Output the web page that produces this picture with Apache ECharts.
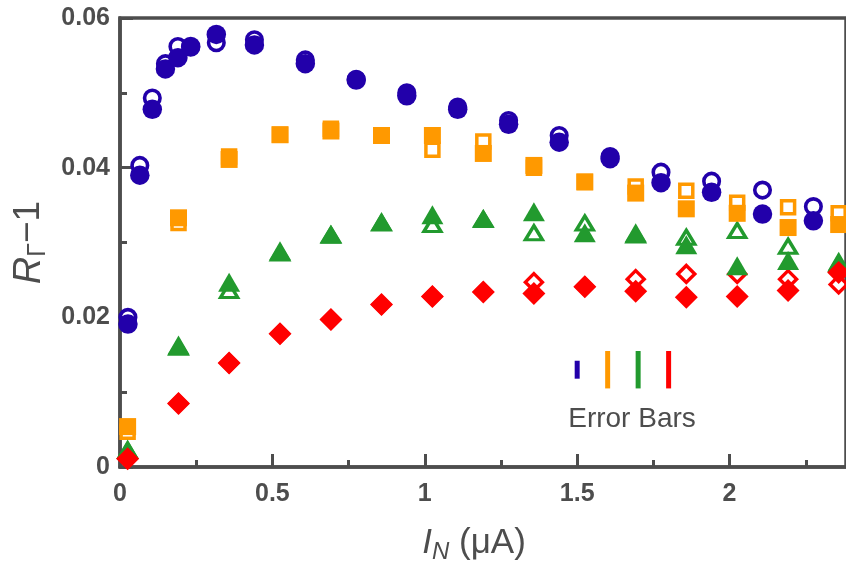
<!DOCTYPE html>
<html>
<head>
<meta charset="utf-8">
<script src="https://cdn.jsdelivr.net/npm/echarts@6/dist/echarts.min.js"></script>
<style>html,body{margin:0;padding:0;background:#fff;}#c{width:846px;height:569px;}</style>
</head>
<body>
<div id="c"></div>
<script>
// x positions (µA)
var xBlue = [0.026,0.065,0.106,0.149,0.19,0.232,0.316,0.441,0.608,0.775,0.941,1.108,1.275,1.441,1.608,1.775,1.941,2.108,2.275];
var xOther = [0.025,0.192,0.358,0.525,0.692,0.858,1.025,1.192,1.358,1.525,1.692,1.858,2.025,2.192,2.358];

var blueFilled = [0.0191,0.0390,0.0478,0.0532,0.0547,0.0562,0.0578,0.0564,0.0539,0.0517,0.0496,0.0478,0.0458,0.0434,0.0412,0.0380,0.0367,0.0338,0.0329];
var blueOpen   = [0.0200,0.0403,0.0493,0.0539,0.0562,0.0561,0.0567,0.0571,0.0544,0.0518,0.0500,0.0481,0.0463,0.0443,0.0415,0.0394,0.0382,0.0370,0.0348];

var orangeFilled = [0.0054,0.0333,0.0411,0.0444,0.0449,0.0443,0.0443,0.0419,0.0403,0.0381,0.0366,0.0345,0.0339,0.0320,0.0324];
var orangeOpen   = [0.0047,0.0326,0.0415,0.0444,0.0452,0.0443,0.0424,0.0435,0.0400,0.0381,0.0375,0.0369,0.0353,0.0347,0.0339];

var greenFilled = [0.0024,0.0163,0.0247,0.0289,0.0311,0.0328,0.0337,0.0332,0.0341,0.0313,0.0313,0.0297,0.0269,0.0276,0.0275];
var greenOpen   = [0.0022,0.0160,0.0236,0.0286,0.0310,0.0326,0.0324,0.0331,0.0313,0.0326,0.0310,0.0307,0.0316,0.0295,0.0272];

var redFilled = [0.0011,0.0085,0.0139,0.0178,0.0197,0.0217,0.0228,0.0234,0.0232,0.0241,0.0235,0.0227,0.0228,0.0236,0.0260];
var redOpen   = [0.0011,0.0085,0.0139,0.0178,0.0197,0.0217,0.0228,0.0234,0.0247,0.0241,0.0251,0.0258,0.0258,0.0251,0.0244];

// error bar legend: [x, centre y, half length]
var errorBars = [[1.5,0.0130,0.0012],[1.6,0.0130,0.0025],[1.7,0.0130,0.0025],[1.8,0.0130,0.0025]];

var xTicks = [0,0.5,1,1.5,2];
var yTicks = [0,0.02,0.04,0.06];

var BLUE='#2200aa', ORANGE='#ff9900', GREEN='#229a2e', RED='#ff0000';
var AX='#4d4d4d';
var TICKFONT="'Liberation Sans'";

function pairs(xs, ys){ return ys.map(function(v,i){return [xs[i], v];}); }

function openSeries(xs, ys, color, symbol, size, bw){
  return {type:'scatter', data:pairs(xs,ys), symbol:symbol, symbolSize:size, z:2,
    itemStyle:{color:'rgba(0,0,0,0)', borderColor:color, borderWidth:bw, opacity:1}, silent:true};
}
function fillSeries(xs, ys, color, symbol, size){
  return {type:'scatter', data:pairs(xs,ys), symbol:symbol, symbolSize:size, z:3,
    itemStyle:{color:color, opacity:1}, silent:true};
}

var chart = echarts.init(document.getElementById('c'), null, {renderer:'canvas'});
var option = {
  animation:false,
  backgroundColor:'#fff',
  grid:{left:120, top:18, right:-3, bottom:98, show:true, borderColor:AX, borderWidth:3.5, backgroundColor:'rgba(0,0,0,0)'},
  xAxis:{type:'value', min:0, max:2.382, interval:0.5,
    axisLine:{lineStyle:{color:AX, width:3.5}},
    axisTick:{inside:true, length:13, lineStyle:{color:AX, width:3}},
    minorTick:{show:true, splitNumber:2, length:7, lineStyle:{color:AX, width:3}},
    splitLine:{show:false},
    axisLabel:{color:AX, fontSize:25, fontWeight:'bold', fontFamily:TICKFONT, margin:15, showMaxLabel:false,
      formatter:function(v){ return xTicks.indexOf(v)>=0 ? String(v) : ''; }},
    name:'{i|I}{s|N} (μA)', nameLocation:'middle', nameGap:55,
    nameTextStyle:{color:AX, fontSize:35, fontFamily:'Liberation Sans', padding:[0,18,0,0],
      rich:{i:{fontStyle:'italic', fontSize:35, color:AX, fontFamily:'Liberation Sans'}, s:{fontStyle:'italic', fontSize:24, color:AX, verticalAlign:'bottom', padding:[18,0,0,0], fontFamily:'Liberation Sans'}}}
  },
  yAxis:{type:'value', min:0, max:0.06, interval:0.02,
    axisLine:{lineStyle:{color:AX, width:3.5}},
    axisTick:{inside:true, length:13, lineStyle:{color:AX, width:3}},
    minorTick:{show:true, splitNumber:2, length:7, lineStyle:{color:AX, width:3}},
    splitLine:{show:false},
    axisLabel:{color:AX, fontSize:25, fontWeight:'bold', fontFamily:TICKFONT, margin:10,
      formatter:function(v){ return yTicks.indexOf(v)>=0 ? String(v) : ''; }},
    name:'{r|R}{s|Γ}{n|−1}', nameLocation:'middle', nameGap:67, nameRotate:90,
    nameTextStyle:{color:AX, fontSize:37, fontFamily:'Liberation Sans',
      rich:{r:{fontStyle:'italic', fontSize:38, color:AX, fontFamily:'Liberation Sans'}, s:{fontSize:25, color:AX, verticalAlign:'bottom', padding:[18,0,0,0], fontFamily:'Liberation Sans'}, n:{fontSize:37, color:AX, fontFamily:'Liberation Sans'}}}
  },
  graphic:[
    {type:'text', x:632, y:419, style:{text:'Error Bars', fill:AX, font:'28px "Liberation Sans"', textAlign:'center', textVerticalAlign:'middle'}, z:10}],
  series:[
    openSeries(xBlue, blueOpen, BLUE, 'circle', 15.5, 3.6),
    openSeries(xOther, orangeOpen, ORANGE, 'rect', 13, 3.5),
    openSeries(xOther, greenOpen, GREEN, 'triangle', [17,14], 3.3),
    openSeries(xOther, redOpen, RED, 'diamond', 17, 3.4),
    fillSeries(xBlue, blueFilled, BLUE, 'circle', 19.5),
    fillSeries(xOther, orangeFilled, ORANGE, 'rect', 17),
    fillSeries(xOther, greenFilled, GREEN, 'triangle', [22,19]),
    fillSeries(xOther, redFilled, RED, 'diamond', 23),
    {type:'custom', data:errorBars, z:4, silent:true,
      renderItem:function(params, api){
        var cols=[BLUE,ORANGE,GREEN,RED];
        var x=api.value(0), y=api.value(1), h=api.value(2);
        var p1=api.coord([x, y+h]), p2=api.coord([x, y-h]);
        return {type:'rect', shape:{x:p1[0]-2.5, y:p1[1], width:5, height:p2[1]-p1[1]}, style:{fill:cols[params.dataIndex]}};
      }}
  ]
};
chart.setOption(option);
</script>
</body>
</html>
